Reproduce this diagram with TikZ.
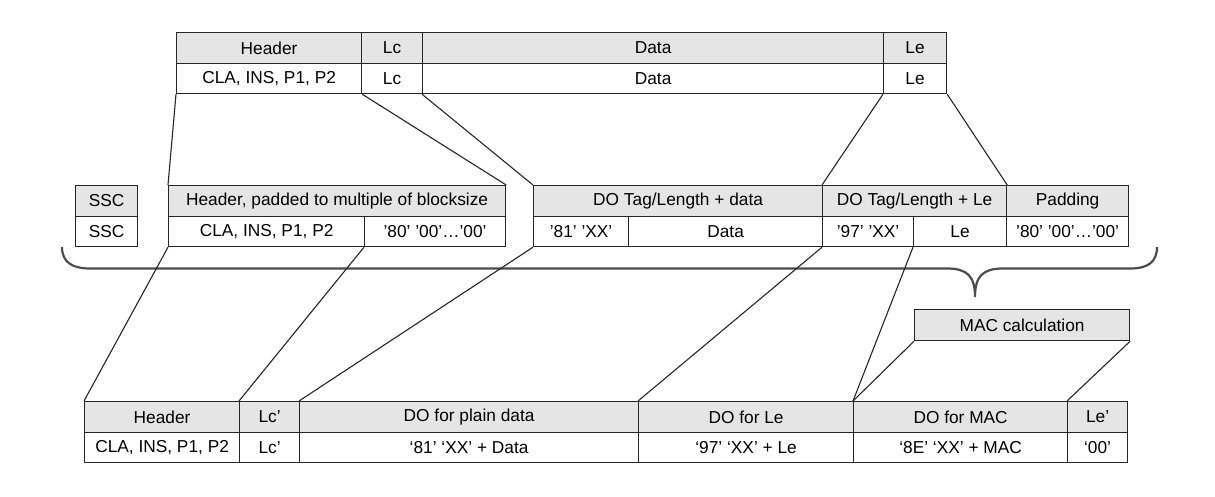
\documentclass[tikz,border=0pt]{standalone}
\usepackage{fontspec}
\setmainfont{Liberation Sans}
\begin{document}
\begin{tikzpicture}[x=1pt,y=-1pt,
  cell/.style={draw=black!85, line width=1.2pt, inner sep=0pt, anchor=north west,
    minimum height=30.5pt, font=\fontsize{17.3}{20}\selectfont},
  hcell/.style={cell, fill=black!10},
  dcell/.style={cell, fill=white},
  link/.style={draw=black!85, line width=1.1pt},
  brace/.style={draw=black!70, line width=2.2pt}]
\useasboundingbox (0,0) rectangle (1215,496);

% brace
\draw[brace] (62,247) .. controls (62,262) and (72,268.5) .. (90,268.5) -- (947,268.5)
  .. controls (967,268.5) and (975,276) .. (975,297)
  .. controls (975,276) and (983,268.5) .. (1003,268.5) -- (1130,268.5)
  .. controls (1148,268.5) and (1157,262) .. (1157,247);

% top table
\node[hcell, minimum width=185pt] (tH) at (176,32) {Header};
\node[hcell, minimum width=61pt] (tLc) at (361,32) {Lc};
\node[hcell, minimum width=461pt] (tD) at (422,32) {Data};
\node[hcell, minimum width=63pt] (tLe) at (883,32) {Le};
\node[dcell, minimum width=185pt] (tH2) at (176,62.5) {CLA, INS, P1, P2};
\node[dcell, minimum width=61pt] (tLc2) at (361,62.5) {Lc};
\node[dcell, minimum width=461pt] (tD2) at (422,62.5) {Data};
\node[dcell, minimum width=63pt] (tLe2) at (883,62.5) {Le};

% middle table
\node[hcell, minimum width=62pt] (mS) at (75,185) {SSC};
\node[dcell, minimum width=62pt] (mS2) at (75,215.5) {SSC};
\node[hcell, minimum width=337pt] (mH) at (168,185) {Header, padded to multiple of blocksize};
\node[dcell, minimum width=196pt] (mH2) at (168,215.5) {CLA, INS, P1, P2};
\node[dcell, minimum width=141pt] (mP1) at (364,215.5) {’80’ ’00’…’00’};
\node[hcell, minimum width=289pt] (mDO) at (533,185) {DO Tag/Length + data};
\node[dcell, minimum width=95pt] (mT1) at (533,215.5) {’81’ ’XX’};
\node[dcell, minimum width=194pt] (mT2) at (628,215.5) {Data};
\node[hcell, minimum width=184pt] (mLe) at (822,185) {DO Tag/Length + Le};
\node[dcell, minimum width=91pt] (mL1) at (822,215.5) {’97’ ’XX’};
\node[dcell, minimum width=93pt] (mL2) at (913,215.5) {Le};
\node[hcell, minimum width=122pt] (mPad) at (1006,185) {Padding};
\node[dcell, minimum width=122pt] (mPad2) at (1006,215.5) {’80’ ’00’…’00’};

% MAC calculation
\node[hcell, minimum width=215pt, minimum height=31pt] (mac) at (914,309) {MAC calculation};

% bottom table
\node[hcell, minimum width=155pt] (bH) at (84,401) {Header};
\node[hcell, minimum width=60pt] (bLc) at (239,401) {Lc’};
\node[hcell, minimum width=339pt] (bDO) at (299,401) {DO for plain data};
\node[hcell, minimum width=215pt] (bLe) at (638,401) {DO for Le};
\node[hcell, minimum width=214pt] (bMac) at (853,401) {DO for MAC};
\node[hcell, minimum width=60pt] (bLep) at (1067,401) {Le’};
\node[dcell, minimum width=155pt] (bH2) at (84,431.5) {CLA, INS, P1, P2};
\node[dcell, minimum width=60pt] (bLc2) at (239,431.5) {Lc’};
\node[dcell, minimum width=339pt] (bDO2) at (299,431.5) {‘81’ ‘XX’ + Data};
\node[dcell, minimum width=215pt] (bLe2) at (638,431.5) {‘97’ ‘XX’ + Le};
\node[dcell, minimum width=214pt] (bMac2) at (853,431.5) {‘8E’ ‘XX’ + MAC};
\node[dcell, minimum width=60pt] (bLep2) at (1067,431.5) {‘00’};

% top -> middle
\draw[link] (tH2.south west) -- (mH.north west);
\draw[link] (tH2.south east) -- (mH.north east);
\draw[link] (tD2.south west) -- (mDO.north west);
\draw[link] (tLe2.south west) -- (mLe.north west);
\draw[link] (tLe2.south east) -- (mLe.north east);

% middle -> bottom
\draw[link] (mH2.south west) -- (bH.north west);
\draw[link] (mP1.south west) -- (bLc.north west);
\draw[link] (mT1.south west) -- (bDO.north west);
\draw[link] (mL1.south west) -- (bLe.north west);
\draw[link] (mL2.south west) -- (bMac.north west);
\draw[link] (mac.south west) -- (bMac.north west);
\draw[link] (mac.south east) -- (bLep.north west);
\end{tikzpicture}
\end{document}
